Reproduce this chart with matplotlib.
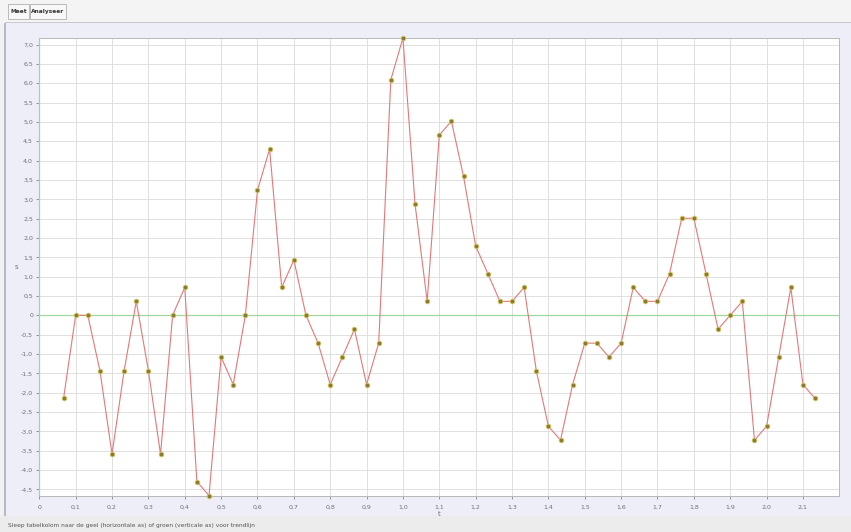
import matplotlib
matplotlib.use("Agg")
import matplotlib.pyplot as plt
from matplotlib.patches import Rectangle
from matplotlib.ticker import FuncFormatter, MultipleLocator

# Measured samples: time (s) and position
t_values = [k / 30 for k in range(2, 65)]
s_values = [
    -2.15, 0.00, 0.00, -1.43, -3.59, -1.43, 0.36, -1.43, -3.59, 0.00,
    0.72, -4.30, -4.66, -1.08, -1.79, 0.00, 3.23, 4.30, 0.72, 1.43,
    0.00, -0.72, -1.79, -1.08, -0.36, -1.79, -0.72, 6.09, 7.17, 2.87,
    0.36, 4.66, 5.02, 3.59, 1.79, 1.08, 0.36, 0.36, 0.72, -1.43,
    -2.87, -3.23, -1.79, -0.72, -0.72, -1.08, -0.72, 0.72, 0.36, 0.36,
    1.08, 2.51, 2.51, 1.08, -0.36, 0.00, 0.36, -3.23, -2.87, -1.08,
    0.72, -1.79, -2.15,
]
x_label = "t"
y_label = "s"
tab_labels = ["Meet", "Analyseer"]
status_text = ("Sleep tabelkolom naar de geel (horizontale as) of groen "
               "(verticale as) voor trendlijn")

W, H = 851, 532
fig = plt.figure(figsize=(W / 100, H / 100), dpi=100)
fig.patch.set_facecolor("#f2f2f2")


def px_rect(x0, y0, x1, y1, **kw):
    """Rectangle in pixel coordinates measured from the top-left corner."""
    r = Rectangle((x0 / W, 1 - y1 / H), (x1 - x0) / W, (y1 - y0) / H,
                  transform=fig.transFigure, zorder=-10, **kw)
    fig.patches.append(r)
    return r


# Window chrome: tab strip, main panel and status bar
px_rect(0, 0, W, 23, facecolor="#f4f4f4", edgecolor="none")
px_rect(5, 23, W, 516, facecolor="#eeeef9", edgecolor="none")
px_rect(4, 23, 6, 516, facecolor="#b8b8c0", edgecolor="none")
px_rect(5, 22, W, 23, facecolor="#c8c8d0", edgecolor="none")
px_rect(0, 516, W, H, facecolor="#ececec", edgecolor="none")

tab_boxes = [(8, 29), (30, 66)]
for (x0, x1), lab in zip(tab_boxes, tab_labels):
    px_rect(x0, 4, x1, 19, facecolor="#f8f8f8", edgecolor="#b0b0b0", lw=0.6)
    fig.text((x0 + x1) / 2 / W, 1 - 11.5 / H, lab, ha="center", va="center",
             fontsize=4.2, color="#333333", fontweight="bold")

fig.text(8 / W, 1 - 525 / H, status_text, ha="left", va="center",
         fontsize=4.2, color="#555555")

# Plot area
ax = fig.add_axes([39.3 / W, 1 - 495.5 / H, 800 / W, 457.5 / H])
ax.set_facecolor("white")
ax.set_xlim(0, 2.2)
ax.set_ylim(min(s_values), max(s_values))

ax.xaxis.set_major_locator(MultipleLocator(0.1))
ax.yaxis.set_major_locator(MultipleLocator(0.5))


def comma_fmt(v, _pos):
    if abs(v) < 1e-9:
        return "0"
    return f"{v:.1f}".replace(".", ",")


ax.xaxis.set_major_formatter(FuncFormatter(comma_fmt))
ax.yaxis.set_major_formatter(FuncFormatter(comma_fmt))
ax.set_xticks([round(0.1 * i, 1) for i in range(22)])

ax.tick_params(axis="both", labelsize=4.5, colors="#707070", length=2.5,
               width=0.5, pad=2)
ax.tick_params(axis="x", pad=4)

ax.grid(True, color="#dadada", lw=0.6)
ax.set_axisbelow(True)

for side in ("top", "right", "bottom"):
    ax.spines[side].set_color("#b8b8b8")
    ax.spines[side].set_linewidth(0.7)
ax.spines["left"].set_color("#9ed89e")
ax.spines["left"].set_linewidth(0.9)

ax.axhline(0, color="#9ed89e", lw=0.9, zorder=2)

ax.plot(t_values, s_values, color="#e47878", lw=0.8, zorder=3,
        marker="o", markersize=3.4, markerfacecolor="#8a7a32",
        markeredgecolor="#d8c868", markeredgewidth=0.6, clip_on=False)

ax.set_xlabel(x_label, fontsize=5, color="#707070", labelpad=1)
ax.set_ylabel(y_label, fontsize=5, color="#707070", rotation=0,
              labelpad=3, va="center")

fig.savefig("out.png", dpi=100, facecolor=fig.get_facecolor())
